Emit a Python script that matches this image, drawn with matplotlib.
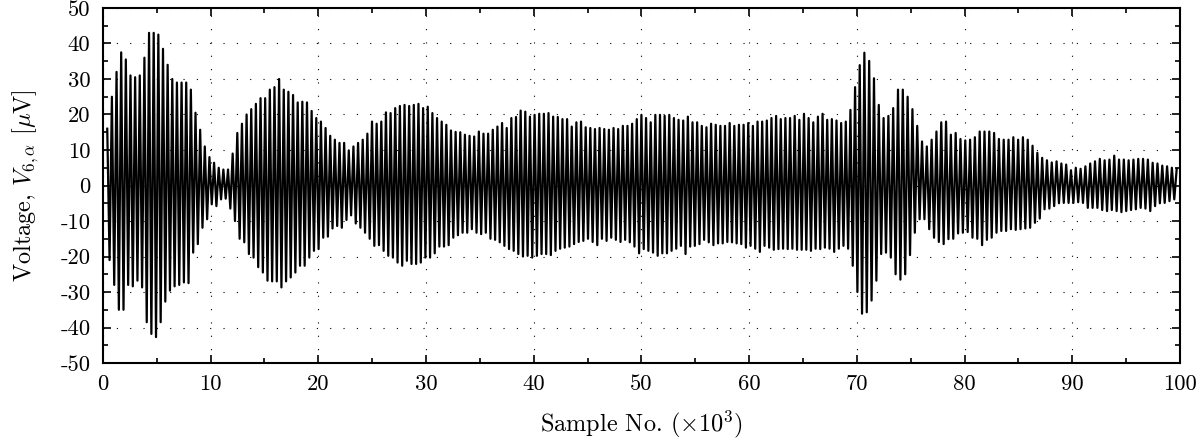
import numpy as np
import matplotlib
matplotlib.use("Agg")
import matplotlib.pyplot as plt
from matplotlib.ticker import MultipleLocator

# --- peak / trough values of each cycle (uV) ---
upper = [
    16, 25, 32, 37.5, 35.5, 31, 30.5, 31, 36, 43, 43, 42.5, 38.5, 34, 30, 29, 29, 29, 27, 20.5,
    15.7, 11, 8, 6.4, 5, 4.5, 4.5, 9, 14.8, 17.4, 20, 21.5, 23, 24.6, 24.6, 27, 27.7, 30, 27, 26.4,
    25.5, 23.4, 23.6, 23.4,
    21, 19, 18, 16.2, 14, 12.9, 12, 12, 9.9, 11, 12, 12.9, 14.6, 18, 17.4, 18, 20.6, 20.4, 21.8, 22.4,
    22.7, 22.4, 22.7, 23, 21.8, 22.2, 20.4, 19, 18, 17.1, 15.5, 15.1, 15, 14.3, 14, 13.8, 15.2, 14.6,
    14.6, 15.7, 16.6,
    17.6, 16.2, 19, 19.3, 21.1, 20.8, 19.4, 19.9, 20.2, 20.2, 20.4, 19.4, 19.3, 18.7, 18.7, 16.6,
    17.8, 18, 16.4, 16.2, 15.9, 16.2, 15.9, 15.7, 16.2, 15.9, 16.8, 16.8, 17.4, 18.7, 19.9, 19, 17.8,
    19.9, 19.9, 19.6, 19.9, 19, 18.5, 18.3, 19.4, 17.8, 17.8,
    16.8, 16.4, 17.4, 17.1, 16.8, 16.8, 17.6, 16.8, 17.1, 17.1, 17.6, 16.8, 18, 18, 18.3, 19, 19.6,
    18.7, 19, 19, 19.6, 18.5, 20.2, 19, 17.8, 19.4, 20.2, 18.5, 18.7, 18.3, 17.6, 18, 21.3, 27.7,
    33.9, 37.4, 35.1, 30.2, 22.7, 19, 19.6, 21.8, 27, 27,
    25, 21.5, 16.8, 12.4, 11, 12.9, 15.2, 17.8, 18, 14.3, 14.8, 13.1, 12.7, 12.9, 13.6, 15.2, 15.2,
    15.2, 14.8, 13.1, 12.9, 12.9, 13.6, 12.9, 13.6, 12.9, 11.2, 9.2, 7.8, 7.1, 6.5, 6.8, 6.2, 5.9,
    4.3, 5, 4.7, 5.4, 6.2, 6.8, 7.5, 7.1, 7.3, 8.4, 7.3, 7.3, 7.1, 7.3, 7.5, 7.5, 7.3, 6.4, 6.2,
    5.6, 5.4, 5, 4.7,
]
lower = [
    -21, -28, -35, -35, -28, -28.4, -26.8, -28.7, -38.5, -41.8, -42.7, -38.5, -32.7, -29.6, -28.4,
    -28, -27.3, -27.5, -18.9, -16.5, -11.9, -9.5, -5.3, -5.8, -3.9, -3.7, -6.5, -10, -15, -16,
    -19.3, -20.3, -23, -24.5, -26.8, -27, -27, -28.7, -27, -25.9, -24.5, -22.6, -22.6, -20.3,
    -18.4, -17.9, -14.7, -14.4, -12.1, -11.4, -11.9, -9.7, -8.4, -10.7, -11.9, -13.3, -15, -17,
    -16.8, -18.4, -19.8, -20.3, -21.7, -22.6, -21.2, -22.1, -22.1, -21.7, -20.3, -20.3, -19.1,
    -17.2, -17.2, -16.8, -14.7, -14, -13.3, -13.3, -12.3, -13.3, -13.7, -13.3, -15, -15.3, -16,
    -17, -17.9, -18.4, -19.3, -20, -19.8, -20.3, -19.8, -19.3, -19.3, -19.6, -18.4, -17.8, -17.5,
    -17.2, -16.5, -15.9, -15.6, -15, -15.9, -16.8, -15, -15.6, -14.7, -15.3, -15.9, -15.3, -16,
    -17.2, -19.1, -17.9, -18.4, -18.9, -19.8, -19.1, -19.1, -18.4, -17.8, -17, -19.3, -17.2, -17,
    -16.5,
    -15.3, -16, -16.8, -16.3, -16.3, -15.9, -16, -16.3, -16.5, -17.5, -17, -17.8, -18.7, -17,
    -17.5, -18.1, -17.9, -17.8, -17.9, -17.8, -18.1, -18.1, -18.1, -18.4, -17.8, -17.9, -17.5,
    -17.8, -18.7, -17.8, -17, -17.8, -22.6, -30, -36.1, -35.7, -32.4, -26.8, -19.3, -18.9, -20.3,
    -25, -26.5, -25,
    -19.6, -13.3, -9.5, -9.5, -12.3, -14.7, -15.9, -16.5, -15.1, -15, -13.5, -13.3, -13.1, -14.7,
    -15, -16.8, -15.3, -14.7, -13.3, -12.8, -12.8, -12.3, -12.5, -12.3, -12.1, -11.9, -10.5, -9.3,
    -6.7, -6.5, -5.8, -5, -4.9, -4.9, -4.9, -4.7, -4.9, -6.3, -6.3, -6.3, -6.9, -7.2, -6.9, -7.2,
    -7.5, -7.2, -6.9, -6.7, -6.3, -6.5, -7.2, -5.8, -5, -4.9, -4.4, -3.9,
]
# where some peaks sit on the x axis (thousand samples): peak number -> position
anchor_idx = [0, 163, 228]
anchor_x = [0.4, 70.7, 99.7]

xticks = [0, 10, 20, 30, 40, 50, 60, 70, 80, 90, 100]
yticks = [-50, -40, -30, -20, -10, 0, 10, 20, 30, 40, 50]

plt.rcParams['font.family'] = 'serif'
plt.rcParams['font.serif'] = ['cmr10', 'DejaVu Serif']
plt.rcParams['mathtext.fontset'] = 'cm'
plt.rcParams['axes.unicode_minus'] = False
plt.rcParams['font.size'] = 16.3
plt.rcParams['axes.labelsize'] = 17.5

# --- zig-zag trace: peak, trough, peak, ... ---
n = len(upper)
px = np.interp(np.arange(n), anchor_idx, anchor_x)
tx = 0.5 * (px[:-1] + px[1:])[:len(lower)]
xs = np.empty(n + len(lower))
ys = np.empty(n + len(lower))
xs[0::2] = px
ys[0::2] = upper
xs[1::2] = tx
ys[1::2] = lower

fig = plt.figure(figsize=(12.04, 4.44), dpi=100)
ax = fig.add_axes([0.0855, 0.1824, 0.8945, 0.7996])

ax.plot(xs, ys, color='k', lw=1.6)

ax.set_xlim(0, 100)
ax.set_ylim(-50, 50)
ax.set_xticks(xticks)
ax.set_xticklabels([str(t) for t in xticks])
ax.set_yticks(yticks)
ax.set_yticklabels([str(t) for t in yticks])
ax.xaxis.set_minor_locator(MultipleLocator(5))
ax.yaxis.set_minor_locator(MultipleLocator(5))
ax.tick_params(which='both', direction='in', top=True, right=True, width=1.2)
ax.tick_params(which='major', length=6)
ax.tick_params(which='minor', length=3.5)
ax.tick_params(axis='x', pad=8)
ax.tick_params(axis='y', pad=9)
ax.grid(True, which='major', color='k', lw=0.8, linestyle=(0, (1, 11)))
for s in ax.spines.values():
    s.set_linewidth(1.5)

ax.set_xlabel(r'Sample No. ($\times10^3$)', labelpad=11)
ax.set_ylabel(r'Voltage, $V_{6,\alpha}$ [$\mu$V]', labelpad=14)

fig.savefig('out.png', dpi=100)
